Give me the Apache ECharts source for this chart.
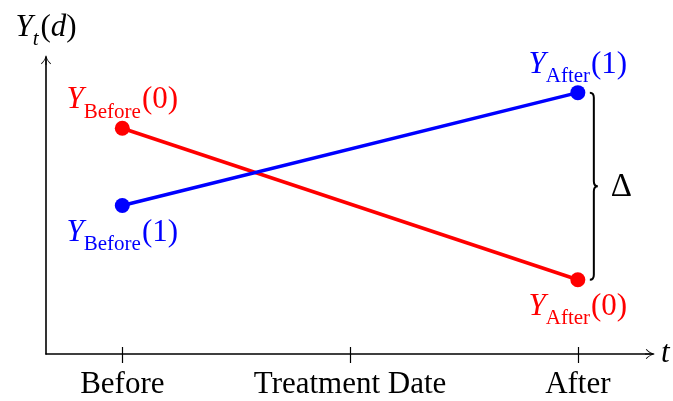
<!DOCTYPE html>
<html>
<head>
<meta charset="utf-8">
<script src="https://cdn.jsdelivr.net/npm/echarts@6/dist/echarts.min.js"></script>
<style>html,body{margin:0;padding:0;background:#fff}#c{width:673px;height:401px}</style>
</head>
<body>
<div id="c"></div>
<script>
// ---- data ----
const periodLabels = ['Before', 'Treatment Date', 'After'];
const periodPos = [1, 2, 3];
const pointPos = [1, 3];              // Before, After
const treatedY = [5.0, 8.8];          // Y(1): Before, After
const controlY = [7.6, 2.5];          // Y(0): Before, After
const treatedLabels = ['Before', 'After'];
const controlLabels = ['Before', 'After'];
const braceLabel = 'Δ';
const xMin = 0.665, xMax = 3.33, yMin = 0, yMax = 10;

const FONT = 'Liberation Serif';
const RED = '#ff0000', BLUE = '#0000ff';
const BIG = 31, SMALL = 21;

function mathRich(color) {
  return {
    y: { fontFamily: FONT, fontStyle: 'italic', fontSize: BIG, color: color, lineHeight: 34, verticalAlign: 'bottom' },
    s: { fontFamily: FONT, fontSize: SMALL, color: color, lineHeight: 23, verticalAlign: 'bottom', padding: [0, 1, -7, 0] },
    p: { fontFamily: FONT, fontSize: BIG, color: color, lineHeight: 34, verticalAlign: 'bottom' }
  };
}

function buildSeries(name, ys, subs, num, color, positions) {
  return {
    type: 'line', name: name,
    data: pointPos.map((x, i) => ({
      value: [x, ys[i]],
      label: {
        show: true, position: positions[i], distance: positions[i] === 'top' ? 5 : 1,
        formatter: '{y|Y}{s|' + subs[i] + '}{p|(' + num + ')}',
        rich: mathRich(color)
      }
    })),
    symbol: 'circle', symbolSize: 15,
    itemStyle: { color: color },
    lineStyle: { color: color, width: 3.5 },
    animation: false,
    z: name === 'treated' ? 3 : 2
  };
}

const chart = echarts.init(document.getElementById('c'), null, { renderer: 'canvas' });
const arrowPath = 'path://M5,0 C5.6,3 7.5,6.5 10,8.5 L9.6,9.2 C7.8,7.8 6.2,5.6 5.5,3.2 L5.5,10 L4.5,10 L4.5,3.2 C3.8,5.6 2.2,7.8 0.4,9.2 L0,8.5 C2.5,6.5 4.4,3 5,0 Z';

chart.setOption({
  animation: false,
  grid: { left: 46, right: 20, top: 57, bottom: 47, containLabel: false },
  xAxis: [{
    type: 'value', min: xMin, max: xMax,
    splitLine: { show: false },
    axisLine: { show: true, lineStyle: { color: '#000', width: 1.6 }, symbol: ['none', arrowPath], symbolSize: [11, 10], symbolOffset: [0, -3] },
    axisTick: { show: true, customValues: periodPos, length: 9, lineStyle: { color: '#000', width: 1.2 } },
    axisLabel: {
      show: true, customValues: periodPos, margin: 15,
      fontFamily: FONT, fontSize: BIG, color: '#000',
      formatter: v => periodLabels[periodPos.indexOf(Math.round(v))] || ''
    },
    name: 't', nameLocation: 'end', nameGap: 8,
    nameTextStyle: { fontFamily: FONT, fontStyle: 'italic', fontSize: BIG, color: '#000', verticalAlign: 'middle' }
  }, {
    type: 'value', min: xMin, max: xMax, position: 'bottom',
    splitLine: { show: false },
    axisLine: { show: false },
    axisTick: { show: true, inside: true, customValues: periodPos, length: 7, lineStyle: { color: '#000', width: 1.2 } },
    axisLabel: { show: false }
  }],
  yAxis: {
    type: 'value', min: yMin, max: yMax,
    splitLine: { show: false },
    axisLine: { show: true, lineStyle: { color: '#000', width: 1.6 }, symbol: ['none', arrowPath], symbolSize: [11, 10], symbolOffset: [0, -3] },
    axisTick: { show: false },
    axisLabel: { show: false },
    name: '{y|Y}{s|t}{p|(}{y|d}{p|)}', nameLocation: 'end', nameGap: 14,
    nameTextStyle: {
      align: 'center', verticalAlign: 'bottom',
      rich: {
        y: { fontFamily: FONT, fontStyle: 'italic', fontSize: BIG, color: '#000', lineHeight: 34, verticalAlign: 'bottom' },
        s: { fontFamily: FONT, fontStyle: 'italic', fontSize: SMALL, color: '#000', lineHeight: 23, verticalAlign: 'bottom', padding: [0, 2, -7, 0] },
        p: { fontFamily: FONT, fontSize: BIG, color: '#000', lineHeight: 34, verticalAlign: 'bottom' }
      }
    }
  },
  series: [
    buildSeries('control', controlY, controlLabels, 0, RED, ['top', 'bottom']),
    buildSeries('treated', treatedY, treatedLabels, 1, BLUE, ['bottom', 'top']),
    {
      type: 'custom', name: 'gap', clip: false, silent: true, animation: false,
      data: [[pointPos[1], treatedY[1], controlY[1]]],
      encode: { x: 0, y: [1, 2] },
      renderItem: function (params, api) {
        const top = api.coord([api.value(0), Math.max(api.value(1), api.value(2))]);
        const bot = api.coord([api.value(0), Math.min(api.value(1), api.value(2))]);
        const bx = top[0] + 16, y1 = top[1], y2 = bot[1], ym = (y1 + y2) / 2;
        const d = 'M' + (bx - 4) + ',' + y1 + ' Q' + bx + ',' + y1 + ' ' + bx + ',' + (y1 + 5) +
          ' L' + bx + ',' + (ym - 5) + ' Q' + bx + ',' + ym + ' ' + (bx + 4) + ',' + ym +
          ' Q' + bx + ',' + ym + ' ' + bx + ',' + (ym + 5) +
          ' L' + bx + ',' + (y2 - 5) + ' Q' + bx + ',' + y2 + ' ' + (bx - 4) + ',' + y2;
        return {
          type: 'group',
          children: [
            { type: 'path', shape: { pathData: d }, style: { fill: null, stroke: '#000', lineWidth: 2 } },
            { type: 'text', x: bx + 17, y: ym + 1, style: { text: braceLabel, fontFamily: FONT, fontSize: 33, fill: '#000', verticalAlign: 'middle', align: 'left' } }
          ]
        };
      }
    }
  ]
});
</script>
</body>
</html>
